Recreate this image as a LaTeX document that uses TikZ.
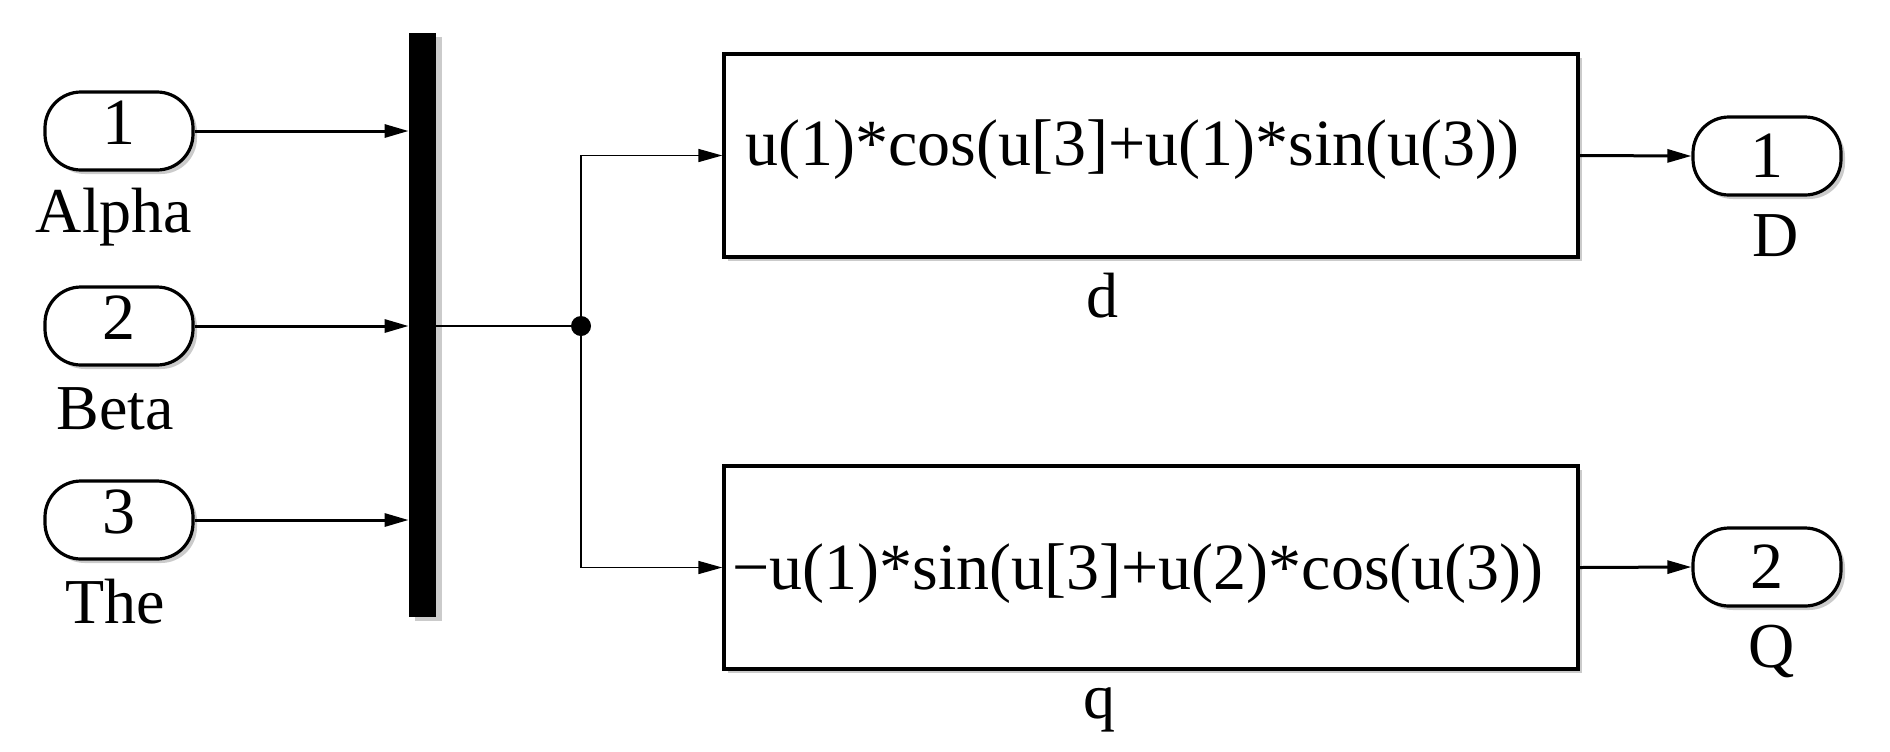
\documentclass[tikz,border=0pt]{standalone}
\usepackage{fontspec}
\setmainfont{Liberation Serif}
\usetikzlibrary{arrows.meta,shadows}
\begin{document}
\begin{tikzpicture}[x=0.5pt,y=-0.5pt,
  shad/.style={drop shadow={shadow xshift=2pt,shadow yshift=-2pt,fill=black!45,opacity=0.45}},
  inport/.style={draw,line width=1.6pt,rounded corners=18pt,minimum width=74pt,minimum height=39pt,
    inner sep=0pt,fill=white,shad,font=\fontsize{33}{40}\selectfont,text depth=8pt},
  outport/.style={inport,text depth=0pt},
  fcn/.style={draw,line width=1.7pt,minimum width=427pt,minimum height=101.5pt,fill=white,shad},
  expr/.style={font=\fontsize{33}{40}\selectfont,anchor=base west,inner sep=0pt},
  lbl/.style={font=\fontsize{32}{40}\selectfont,anchor=base,inner sep=0pt},
  muxbar/.style={fill=black,minimum width=13.5pt,minimum height=292pt,inner sep=0pt,
    drop shadow={shadow xshift=3pt,shadow yshift=-2pt,fill=black!45,opacity=0.45}},
  dot/.style={circle,fill=black,minimum size=10pt,inner sep=0pt},
  sig/.style={line width=1.5pt,-{Triangle[length=12pt,width=6.5pt]}},
  thinsig/.style={line width=0.8pt,-{Triangle[length=12pt,width=6.5pt]}},
  thinline/.style={line width=0.8pt}]
\useasboundingbox (0,0) rectangle (1890,751);

% inports
\node[inport] (in1) at (119,131) {1};
\node[inport] (in2) at (119,326) {2};
\node[inport] (in3) at (119,520) {3};
\node[lbl] (lAlpha) at (114,232) {Alpha};
\node[lbl] (lBeta) at (115,429) {Beta};
\node[lbl] (lThe) at (115,623) {The};

% mux
\node[muxbar] (mux) at (422.5,325) {};

% junction
\node[dot] (j) at (581,326) {};

% function blocks
\node[fcn] (d) at (1151,155.5) {};
\node[fcn] (q) at (1151,567.5) {};
\node[expr] (dtext) at (745,165) {u(1)*cos(u[3]+u(1)*sin(u(3))};
\node[expr] (qtext) at (732,589) {−u(1)*sin(u[3]+u(2)*cos(u(3))};
\node[lbl] (ld) at (1102,317) {d};
\node[lbl] (lq) at (1099,718) {q};

% outports
\node[outport] (out1) at (1767,156) {1};
\node[outport] (out2) at (1767,567) {2};
\node[lbl] (lD) at (1776,256) {D};
\node[lbl] (lQ) at (1772,667) {Q};

% connectors
\draw[sig] (in1.east) -- (in1.east -| mux.west);
\draw[sig] (in2.east) -- (in2.east -| mux.west);
\draw[sig] (in3.east) -- (in3.east -| mux.west);
\draw[thinline] (mux.east |- j) -- (j);
\draw[thinsig] (j) |- (d.west);
\draw[thinsig] (j) |- (q.west);
\draw[sig] (d.east) -- (out1.west);
\draw[sig] (q.east) -- (out2.west);
\end{tikzpicture}
\end{document}
